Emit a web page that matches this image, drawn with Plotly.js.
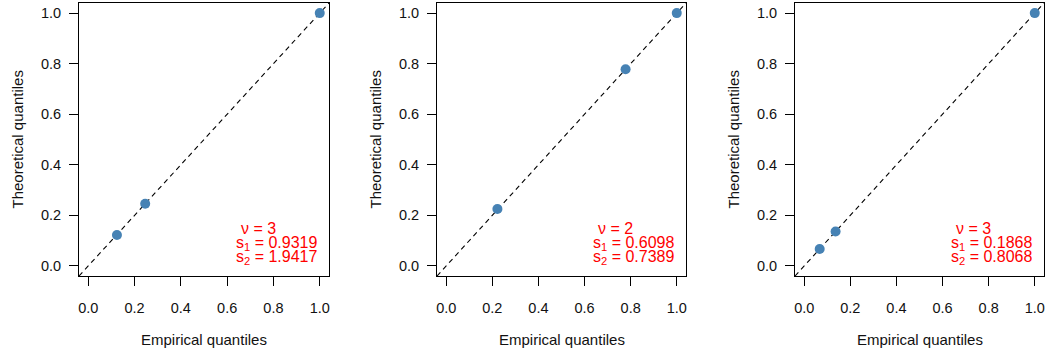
<!DOCTYPE html>
<html>
<head>
<meta charset="utf-8">
<script src="https://cdn.plot.ly/plotly-3.0.1.min.js"></script>
<style>html,body{margin:0;padding:0;background:#fff;}#plot{width:1045px;height:354px;}</style>
</head>
<body>
<div id="plot"></div>
<script>
// Data
var empirical1 = [0.124, 0.246, 1.0];
var theoretical1 = [0.122, 0.246, 1.0];
var empirical2 = [0.222, 0.778, 1.0];
var theoretical2 = [0.225, 0.778, 1.0];
var empirical3 = [0.067, 0.136, 1.0];
var theoretical3 = [0.067, 0.136, 1.0];
var nuValues = [3, 2, 3];
var s1Values = ["0.9319", "0.6098", "0.1868"];
var s2Values = ["1.9417", "0.7389", "0.8068"];
var tickVals = [0, 0.2, 0.4, 0.6, 0.8, 1.0];
var tickText = ["0.0", "0.2", "0.4", "0.6", "0.8", "1.0"];
var refLine = [-0.04, 1.04];
var xTitle = "Empirical quantiles";
var yTitle = "Theoretical quantiles";

var FONT = "Liberation Sans, Arial, Helvetica, sans-serif";
var W = 1045, H = 354;
var boxes = [[79, 329], [437, 686], [795, 1044]];
var yTop = 3, yBot = 276;
var emp = [empirical1, empirical2, empirical3];
var theo = [theoretical1, theoretical2, theoretical3];

var data = [];
var layout = {
  width: W, height: H,
  margin: {l: 0, r: 0, t: 0, b: 0},
  paper_bgcolor: "#fff", plot_bgcolor: "#fff",
  showlegend: false,
  font: {family: FONT, size: 15, color: "#000"},
  annotations: []
};

for (var i = 0; i < 3; i++) {
  var sfx = i === 0 ? "" : String(i + 1);
  var xa = "x" + sfx, ya = "y" + sfx;
  data.push({
    x: refLine, y: refLine, xaxis: xa, yaxis: ya, mode: "lines",
    line: {color: "#000", width: 1.1, dash: "5px,4px"}, hoverinfo: "skip"
  });
  data.push({
    x: emp[i], y: theo[i], xaxis: xa, yaxis: ya, mode: "markers",
    marker: {color: "#4682B4", size: 10}
  });
  var axCommon = {
    range: [-0.04, 1.04], showgrid: false, zeroline: false,
    showline: true, mirror: true, linecolor: "#000", linewidth: 1,
    ticks: "outside", ticklen: 9, tickwidth: 1, tickcolor: "#000",
    tickvals: tickVals, ticktext: tickText,
    tickfont: {family: FONT, size: 14.5, color: "#111"},
    ticklabeloverflow: "allow",
    fixedrange: true
  };
  var xAxis = Object.assign({}, axCommon, {
    domain: [boxes[i][0] / W, boxes[i][1] / W], anchor: ya, ticklabelstandoff: 10
  });
  var yAxis = Object.assign({}, axCommon, {
    domain: [1 - yBot / H, 1 - yTop / H], anchor: xa, ticklabelstandoff: 5
  });
  layout["xaxis" + sfx] = xAxis;
  layout["yaxis" + sfx] = yAxis;

  // axis titles
  layout.annotations.push({
    xref: "paper", yref: "paper", x: (boxes[i][0] + boxes[i][1]) / 2 / W, y: 1 - 339 / H,
    xanchor: "center", yanchor: "middle", showarrow: false, text: xTitle,
    font: {family: FONT, size: 15, color: "#111"}
  });
  layout.annotations.push({
    xref: "paper", yref: "paper", x: (boxes[i][0] - 62) / W, y: 1 - ((yTop + yBot) / 2) / H,
    xanchor: "center", yanchor: "middle", showarrow: false, text: yTitle, textangle: -90,
    font: {family: FONT, size: 15, color: "#111"}
  });
  // parameter text
  var red = {family: FONT, size: 16, color: "#FF0000"};
  layout.annotations.push({
    xref: xa, yref: ya, x: 0.654, y: 0.147, xanchor: "left", yanchor: "middle",
    showarrow: false, borderpad: 0, text: "\u03bd = " + nuValues[i], font: red
  });
  layout.annotations.push({
    xref: xa, yref: ya, x: 0.634, y: 0.088, xanchor: "left", yanchor: "middle",
    showarrow: false, borderpad: 0, text: "s<sub>1</sub> = " + s1Values[i], font: red
  });
  layout.annotations.push({
    xref: xa, yref: ya, x: 0.634, y: 0.033, xanchor: "left", yanchor: "middle",
    showarrow: false, borderpad: 0, text: "s<sub>2</sub> = " + s2Values[i], font: red
  });
}

Plotly.newPlot("plot", data, layout, {displayModeBar: false, staticPlot: true});
</script>
</body>
</html>
